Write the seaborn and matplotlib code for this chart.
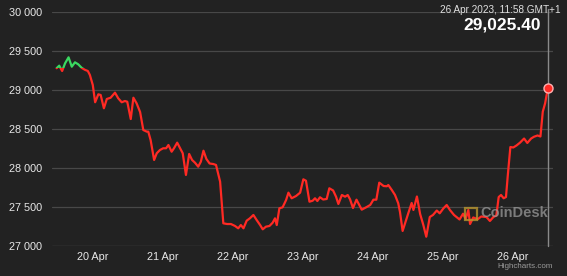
import matplotlib
matplotlib.use("Agg")
import matplotlib.pyplot as plt
from matplotlib.patches import Rectangle
from matplotlib.ticker import FuncFormatter
import numpy as np
import pandas as pd
import seaborn as sns

# ---- data (hours since 19 Apr 2023 00:00, BTC price in USD) ----
hours = [11.7, 12.6, 13.6, 14.6, 15.8, 16.9, 18.0, 19.1, 20.3, 21.4,
         22.4, 23.1, 24.1, 24.9, 26.0, 26.8, 27.9, 28.9, 30.2, 31.7,
         32.8, 34.0, 35.1, 35.9, 37.1, 38.0, 39.1, 40.3, 41.4, 42.6,
         43.1, 43.9, 45.1, 46.0, 47.1, 48.2, 49.2, 50.0, 51.1, 51.9,
         53.0, 54.0, 54.9, 56.0, 57.1, 58.1, 59.1, 60.2, 61.1, 62.0,
         63.0, 64.1, 65.4, 66.3, 67.7, 68.8, 70.1, 71.4, 72.8, 73.9,
         74.8, 75.7, 76.8, 77.9, 79.1, 80.2, 81.4, 82.3, 83.4, 84.6,
         85.7, 86.5, 87.1, 88.0, 89.1, 90.3, 91.1, 92.2, 93.7, 95.1,
         96.2, 97.1, 98.3, 99.4, 100.2, 101.0, 101.9, 103.0, 104.2, 105.1,
         106.4, 107.4, 108.2, 109.4, 110.5, 111.4, 112.2, 113.2, 114.4, 116.2,
         117.9, 119.1, 120.2, 121.2, 122.2, 123.7, 124.8, 125.3, 126.5, 127.6,
         128.7, 129.3, 130.2, 131.5, 132.2, 133.3, 133.9, 135.1, 136.2, 137.3,
         138.3, 139.5, 140.6, 141.9, 142.9, 144.2, 145.3, 146.4, 147.8, 149.7,
         150.9, 151.8, 152.7, 153.3, 154.4, 155.9, 157.1, 158.9, 160.1, 161.3,
         162.3, 163.1, 163.9, 164.8, 165.6, 166.2, 167.1, 168.1, 169.2, 170.4,
         171.8, 172.9, 174.2, 175.2, 176.4, 177.4, 178.2, 179.0, 179.97]
prices = [29275, 29308, 29240, 29338, 29415, 29295, 29351, 29326, 29280, 29255,
          29240, 29189, 29060, 28839, 28941, 28932, 28762, 28881, 28897, 28962,
          28890, 28839, 28855, 28846, 28624, 28897, 28826, 28714, 28483, 28462,
          28462, 28355, 28099, 28185, 28227, 28249, 28249, 28291, 28205, 28249,
          28321, 28249, 28185, 27907, 28176, 28099, 28064, 28013, 28077, 28218,
          28112, 28054, 28047, 28035, 27821, 27287, 27278, 27278, 27253, 27223,
          27265, 27223, 27321, 27351, 27394, 27330, 27265, 27210, 27244, 27253,
          27295, 27351, 27265, 27480, 27492, 27586, 27680, 27608, 27637, 27680,
          27851, 27833, 27564, 27577, 27608, 27573, 27621, 27592, 27599, 27736,
          27708, 27628, 27535, 27650, 27628, 27650, 27595, 27483, 27590, 27462,
          27496, 27522, 27590, 27590, 27808, 27765, 27762, 27778, 27714, 27650,
          27544, 27432, 27189, 27342, 27423, 27548, 27458, 27631, 27406, 27265,
          27115, 27368, 27394, 27451, 27415, 27480, 27522, 27458, 27394, 27336,
          27410, 27342, 27458, 27278, 27362, 27339, 27374, 27368, 27317, 27368,
          27387, 27624, 27650, 27608, 27624, 27894, 28265, 28259, 28285, 28321,
          28374, 28317, 28374, 28397, 28413, 28400, 28718, 28826, 29025.40]
tick_hours = [24, 48, 72, 96, 120, 144, 168]
tick_labels = ["20 Apr", "21 Apr", "22 Apr", "23 Apr", "24 Apr", "25 Apr", "26 Apr"]
y_ticks = [27000, 27500, 28000, 28500, 29000, 29500, 30000]
stamp_text = "26 Apr 2023, 11:58 GMT+1"
last_text = "29,025.40"

df = pd.DataFrame({"hour": hours, "price": prices})
threshold = prices[0]

BG = "#222222"
RED = "#ff2a24"
GREEN = "#3ad860"

sns.set_style("dark")
plt.rcParams["font.family"] = ["Liberation Sans", "DejaVu Sans"]

fig = plt.figure(figsize=(5.67, 2.76), dpi=100, facecolor=BG)
ax = fig.add_axes([52 / 567, 1 - 245.7 / 276, (553 - 52) / 567, (245.7 - 11.7) / 276])
ax.set_facecolor(BG)

xmin, xmax = 10.13, 181.7
ax.set_xlim(xmin, xmax)
ax.set_ylim(27000, 30000)

# red line (below threshold) and green line (above threshold)
sns.lineplot(data=df, x="hour", y="price", ax=ax, color=RED, lw=1.6,
             estimator=None, sort=False, zorder=3)
red_line = ax.lines[-1]
sns.lineplot(data=df, x="hour", y="price", ax=ax, color=GREEN, lw=1.6,
             estimator=None, sort=False, zorder=4)
green_line = ax.lines[-1]
clip_lo = Rectangle((xmin - 50, 20000), (xmax - xmin) + 100, threshold - 20000,
                    transform=ax.transData)
clip_hi = Rectangle((xmin - 50, threshold), (xmax - xmin) + 100, 20000,
                    transform=ax.transData)
red_line.set_clip_path(clip_lo)
green_line.set_clip_path(clip_hi)

# crosshair and end marker
ax.axvline(hours[-1], color="#8a8a8a", lw=1.0, zorder=2, ymin=0, ymax=1.01, clip_on=False)
ax.plot([hours[-1]], [prices[-1]], marker="o", ms=6.5, mfc=RED,
        mec="#ffb0b0", mew=1.0, zorder=6, clip_on=False)

# grid
for yt in y_ticks:
    ax.axhline(yt, color="#484848" if yt != 27000 else "#5a5a5a", lw=0.9, zorder=1)
ax.grid(False)
for s in ax.spines.values():
    s.set_visible(False)

ax.set_yticks(y_ticks)
ax.yaxis.set_major_formatter(FuncFormatter(lambda v, p: f"{int(v):,}".replace(",", " ")))
ax.set_xticks(tick_hours)
ax.set_xticklabels(tick_labels)
ax.tick_params(axis="y", length=0, pad=7, labelsize=7.8, labelcolor="#e8e8e8")
ax.tick_params(axis="x", length=0, pad=4.5, labelsize=7.8, labelcolor="#e8e8e8")
ax.set_xlabel("")
ax.set_ylabel("")

# header text
fig.text(500 / 567, 1 - 10 / 276, stamp_text, ha="center", va="center",
         fontsize=7.2, color="#e0e0e0")
fig.text(541 / 567, 1 - 25.5 / 276, last_text, ha="right", va="center",
         fontsize=12.5, fontweight="bold", color="#ffffff")

# watermark
fig.patches.append(Rectangle((465 / 567, 1 - 220 / 276), 12 / 567, 12 / 276,
                             transform=fig.transFigure, fill=False,
                             edgecolor="#b8952e", lw=1.6, alpha=0.8, zorder=5))
fig.text(480 / 567, 1 - 213 / 276, "CoinDesk", ha="left", va="center",
         fontsize=10.5, fontweight="bold", color="#9a9a9a", alpha=0.75)
fig.text(553 / 567, 1 - 267 / 276, "Highcharts.com", ha="right", va="center",
         fontsize=5.8, color="#9a9a9a")

fig.savefig("out.png", dpi=100, facecolor=BG)
